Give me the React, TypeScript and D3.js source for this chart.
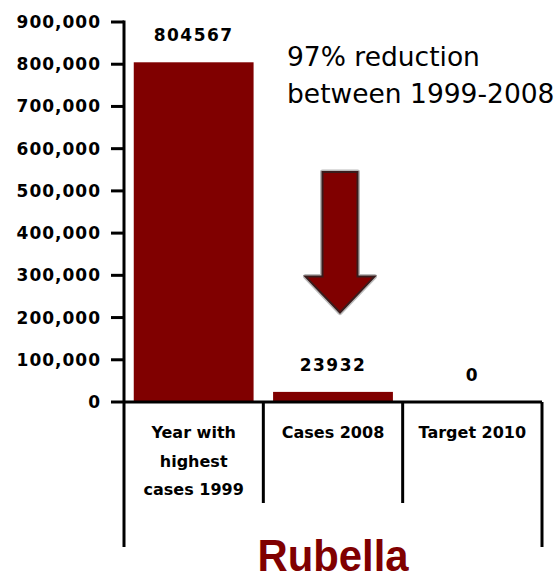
import * as d3 from "d3";

const categories = ["Year with highest cases 1999", "Cases 2008", "Target 2010"];
const categoryLines = [["Year with", "highest", "cases 1999"], ["Cases 2008"], ["Target 2010"]];
const cases = [804567, 23932, 0];
const caseLabels = ["804567", "23932", "0"];
const yTicks = [0, 100000, 200000, 300000, 400000, 500000, 600000, 700000, 800000, 900000];
const title = "Rubella";
const noteLines = ["97% reduction", "between 1999-2008"];

const RED = "#800000";

export default function App() {
  const width = 560;
  const height = 581;
  const left = 124;
  const right = 542;
  const base = 402;
  const top = 22;

  const x = d3.scaleBand<string>().domain(categories).range([left, right]);
  const y = d3.scaleLinear().domain([0, 900000]).range([base, top]);
  const barW = x.bandwidth() * 0.86;
  const fmt = d3.format(",");

  // arrow placed over the second bar
  const ax = x(categories[1])! + x.bandwidth() / 2 + 7;
  const aTop = y(545000);
  const aNeck = y(297000);
  const aTip = y(212000);
  const arrow = [
    [ax - 17.5, aTop],
    [ax + 17.5, aTop],
    [ax + 17.5, aNeck],
    [ax + 34.5, aNeck],
    [ax, aTip],
    [ax - 34.5, aNeck],
    [ax - 17.5, aNeck],
  ];
  const arrowPath = d3.line()(arrow as [number, number][]) + "Z";

  const labelFont = "'DejaVu Sans', sans-serif";

  return (
    <div style={{ position: "absolute", left: 0, top: 0 }}>
      <svg width={width} height={height} style={{ display: "block", background: "#fff" }}>
        {/* bars */}
        {cases.map((v, i) => (
          <rect
            key={categories[i]}
            x={x(categories[i])! + (x.bandwidth() - barW) / 2}
            y={y(v)}
            width={barW}
            height={base - y(v)}
            fill={RED}
          />
        ))}
        {/* value labels */}
        {cases.map((v, i) => (
          <text
            key={"v" + i}
            x={x(categories[i])! + x.bandwidth() / 2}
            y={y(v) - 27}
            textAnchor="middle"
            dominantBaseline="central"
            fontFamily={labelFont}
            fontWeight="bold"
            fontSize={17}
            letterSpacing={1.5}
          >
            {caseLabels[i]}
          </text>
        ))}
        {/* y axis */}
        <line x1={left} x2={left} y1={top - 1.5} y2={547} stroke="#000" strokeWidth={3} />
        {yTicks.map((t) => (
          <g key={t}>
            <line x1={111} x2={left} y1={y(t)} y2={y(t)} stroke="#000" strokeWidth={3} />
            <text
              x={101}
              y={y(t)}
              textAnchor="end"
              dominantBaseline="central"
              fontFamily={labelFont}
              fontWeight="bold"
              fontSize={17}
              letterSpacing={1}
            >
              {fmt(t)}
            </text>
          </g>
        ))}
        {/* category table */}
        <line x1={left} x2={right} y1={base} y2={base} stroke="#000" strokeWidth={3} />
        <line x1={right} x2={right} y1={base} y2={547} stroke="#000" strokeWidth={3} />
        {categories.slice(1).map((c) => (
          <line key={c} x1={x(c)!} x2={x(c)!} y1={base} y2={503} stroke="#000" strokeWidth={3} />
        ))}
        {categories.map((c, i) => (
          <text
            key={"c" + i}
            x={x(c)! + x.bandwidth() / 2}
            textAnchor="middle"
            fontFamily={labelFont}
            fontWeight="bold"
            fontSize={16}
          >
            {categoryLines[i].map((ln, j) => (
              <tspan key={j} x={x(c)! + x.bandwidth() / 2} y={438 + j * 28.5}>
                {ln}
              </tspan>
            ))}
          </text>
        ))}
        {/* arrow */}
        <path d={arrowPath} fill="none" stroke="#bbb" strokeWidth={5} strokeLinejoin="round" />
        <path d={arrowPath} fill={RED} stroke="#3a1c1c" strokeWidth={2} />
        {/* note */}
        <text fontFamily={labelFont} fontSize={26.5} fill="#000">
          {noteLines.map((ln, j) => (
            <tspan key={j} x={287} y={66 + j * 37}>
              {ln}
            </tspan>
          ))}
        </text>
        {/* title */}
        <text
          x={(left + right) / 2}
          y={571}
          textAnchor="middle"
          fontFamily="'Liberation Sans', Arial, sans-serif"
          fontWeight="bold"
          fontSize={44}
          fill={RED}
          textLength={151}
          lengthAdjust="spacingAndGlyphs"
        >
          {title}
        </text>
      </svg>
    </div>
  );
}
